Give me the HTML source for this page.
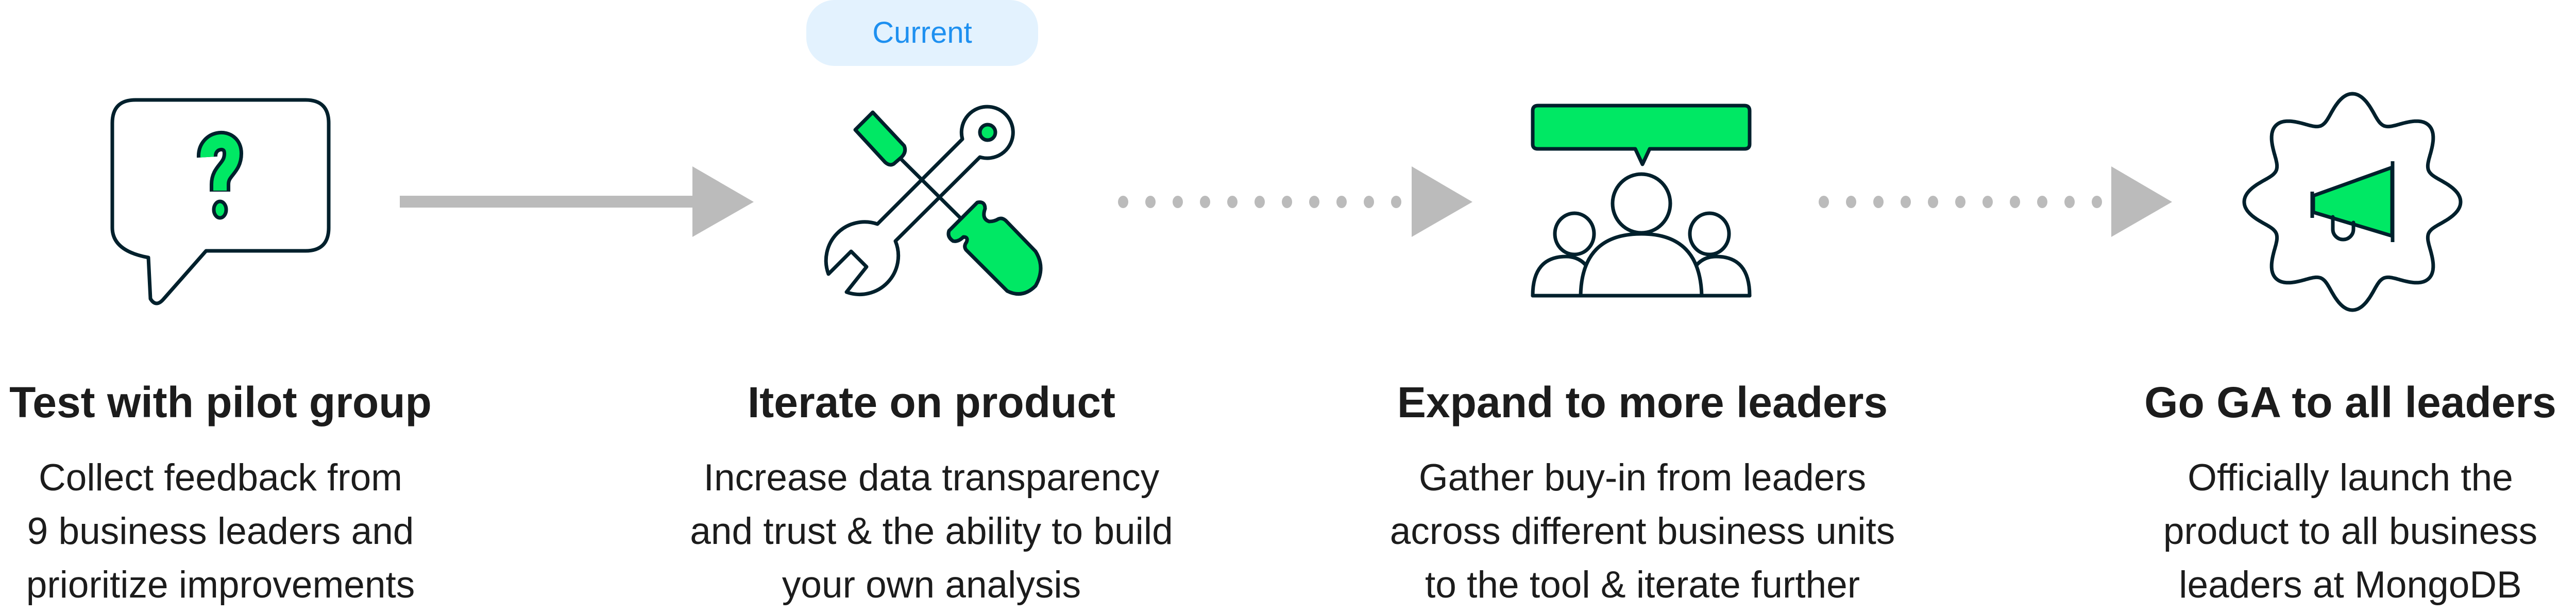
<!DOCTYPE html>
<html><head><meta charset="utf-8"><style>
html,body{margin:0;padding:0;background:#fff;}
body{width:5008px;height:1192px;overflow:hidden;}
svg{display:block;}
.t{font-family:"Liberation Sans",sans-serif;font-weight:bold;font-size:84px;fill:#1c1c1c;text-anchor:middle;}
.b{font-family:"Liberation Sans",sans-serif;font-size:73px;fill:#1c1c1c;text-anchor:middle;}
</style></head><body>
<svg width="5008" height="1192" viewBox="0 0 5008 1192" xmlns="http://www.w3.org/2000/svg">
<g stroke="#00202c" stroke-width="7" stroke-linejoin="round" stroke-linecap="round">
<path fill="#fff" d="M263,194 L593,194 Q638,194 638,239 L638,442 Q638,487 593,487 L400,487 L318,580 Q303,598 292,580 L288,500 Q218,487 218,442 L218,239 Q218,194 263,194 Z"/>
<path fill="none" stroke-width="40" stroke-linecap="butt" d="M402,305 C400,268 452,262 452,298 C452,328 427,330 427,358 L427,372"/>
<path fill="none" stroke="#00e864" stroke-width="26" stroke-linecap="butt" d="M402,305 C400,268 452,262 452,298 C452,328 427,330 427,358 L427,370"/>
<ellipse cx="427" cy="407" rx="12" ry="16" fill="#00e864"/>
<path fill="#fff" d="M1868,270 L1703,435 A75,75 0 0 0 1608,532 L1652,488 L1682,518 L1643,567 A75,75 0 0 0 1738,468 L1902,305 A50,50 0 1 0 1868,270 Z"/>
<circle cx="1917" cy="257" r="15" fill="#00e864"/>
<line x1="1743" y1="303" x2="1866" y2="425"/>
<path fill="#00e864" d="M1660,252 L1694,218 L1755,283 Q1760,295 1750,305 L1735,318 Q1727,323 1718,315 Z"/>
<path fill="#00e864" d="M1897,393 Q1912,390 1912,405 Q1905,425 1920,430 Q1930,430 1938,425 Q1945,422 1952,428 L2010,488 Q2030,520 2010,555 Q1985,580 1955,565 L1875,485 Q1870,478 1876,470 Q1880,460 1870,460 Q1860,470 1850,468 Q1838,460 1842,448 Z"/>
<path fill="#00e864" d="M2985,205 L3386,205 Q3396,205 3396,215 L3396,280 Q3396,289 3386,289 L3202,289 L3188,319 L3174,289 L2985,289 Q2975,289 2975,280 L2975,215 Q2975,205 2985,205 Z"/>
<path fill="#fff" d="M2975,574 Q2975,498 3040,498 Q3090,498 3100,574 Z"/>
<path fill="#fff" d="M3396,574 Q3396,498 3331,498 Q3281,498 3271,574 Z"/>
<ellipse cx="3056" cy="454" rx="38" ry="40" fill="#fff"/>
<ellipse cx="3318" cy="454" rx="38" ry="40" fill="#fff"/>
<path fill="#fff" d="M3068,574 Q3070,454 3186,454 Q3300,454 3303,574 Z"/>
<ellipse cx="3186" cy="395" rx="56" ry="57" fill="#fff"/>
<line x1="2975" y1="574" x2="3396" y2="574"/>
<path id="wavy" fill="#fff" d=""/>
<path fill="#00e864" d="M4490,380 L4643,325 L4643,458 L4490,412 Z"/>
<path fill="none" d="M4528,421 L4528,445 A20,20 0 0 0 4568,445 L4568,432"/>
<line x1="4644" y1="313" x2="4644" y2="470" stroke-linecap="butt"/>
<line x1="4488" y1="372" x2="4488" y2="423" stroke-linecap="butt"/>
</g>
<rect x="776" y="380" width="570" height="23" fill="#bbbbbb"/>
<polygon points="1344,323 1463,392 1344,460" fill="#bbbbbb"/>
<g fill="#bbbbbb" id="dots1"></g>
<polygon points="2740,323 2858,392 2740,460" fill="#bbbbbb"/>
<polygon points="4098,323 4216,392 4098,460" fill="#bbbbbb"/>
<rect x="1565" y="0" width="450" height="128" rx="55" fill="#e3f2fe"/>
<text x="1790" y="83" font-family="Liberation Sans, sans-serif" font-size="58" fill="#1e90f0" text-anchor="middle">Current</text>
<text class="t" x="428" y="810">Test with pilot group</text>
<text class="b" x="428" y="952">Collect feedback from</text>
<text class="b" x="428" y="1056">9 business leaders and</text>
<text class="b" x="428" y="1160">prioritize improvements</text>
<text class="t" x="1808" y="810">Iterate on product</text>
<text class="b" x="1808" y="952">Increase data transparency</text>
<text class="b" x="1808" y="1056">and trust &amp; the ability to build</text>
<text class="b" x="1808" y="1160">your own analysis</text>
<text class="t" x="3188" y="810">Expand to more leaders</text>
<text class="b" x="3188" y="952">Gather buy-in from leaders</text>
<text class="b" x="3188" y="1056">across different business units</text>
<text class="b" x="3188" y="1160">to the tool &amp; iterate further</text>
<text class="t" x="4562" y="810">Go GA to all leaders</text>
<text class="b" x="4562" y="952">Officially launch the</text>
<text class="b" x="4562" y="1056">product to all business</text>
<text class="b" x="4562" y="1160">leaders at MongoDB</text>
</svg>
<script>
var d="",cx=4566,cy=392;
for(var i=0;i<=720;i++){var a=i/720*2*Math.PI-Math.PI/2;var r=185+25*Math.cos(8*(a+Math.PI/2));d+=(i?"L":"M")+(cx+r*Math.cos(a)).toFixed(1)+","+(cy+r*Math.sin(a)).toFixed(1);}
document.getElementById("wavy").setAttribute("d",d+"Z");
var g=document.getElementById("dots1"),ns="http://www.w3.org/2000/svg";
function dots(x0,x1){for(var x=x0;x<=x1;x+=53){var e=document.createElementNS(ns,"ellipse");e.setAttribute("cx",x);e.setAttribute("cy",392);e.setAttribute("rx",10);e.setAttribute("ry",12);g.appendChild(e);}}
dots(2180,2715);dots(3540,4072);
</script>
</body></html>
